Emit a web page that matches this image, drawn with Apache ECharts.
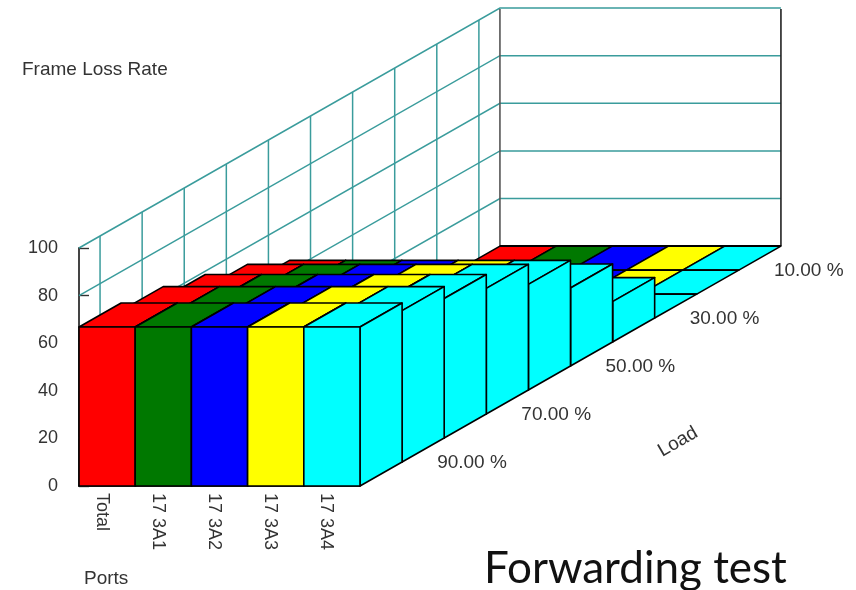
<!DOCTYPE html>
<html>
<head>
<meta charset="utf-8">
<style>html,body{margin:0;padding:0;background:#fff}#c{width:856px;height:590px}</style>
<script src="https://cdn.jsdelivr.net/npm/echarts@6/dist/echarts.min.js"></script>
</head>
<body>
<div id="c"></div>
<script>
const ports = ['Total', '17 3A1', '17 3A2', '17 3A3', '17 3A4'];
const portColors = ['#ff0000', '#007800', '#0000ff', '#ffff00', '#00ffff'];
// front slice to back slice
const loads = ['100.00 %', '90.00 %', '80.00 %', '70.00 %', '60.00 %', '50.00 %', '40.00 %', '30.00 %', '20.00 %', '10.00 %'];
const loadLabels = ['', '90.00 %', '', '70.00 %', '', '50.00 %', '', '30.00 %', '', '10.00 %'];
const totalLoss = [66.8, 63.6, 58.6, 52.8, 44.4, 32.8, 17, 0, 0, 0];
const port1Loss = [66.8, 63.6, 58.6, 52.8, 44.4, 32.8, 17, 0, 0, 0];
const port2Loss = [66.8, 63.6, 58.6, 52.8, 44.4, 32.8, 17, 0, 0, 0];
const port3Loss = [66.8, 63.6, 58.6, 52.8, 44.4, 32.8, 17, 0, 0, 0];
const port4Loss = [66.8, 63.6, 58.6, 52.8, 44.4, 32.8, 17, 0, 0, 0];
const lossByPort = [totalLoss, port1Loss, port2Loss, port3Loss, port4Loss];
const valueTicks = [0, 20, 40, 60, 80, 100];

// Oblique projection, in axis units per load slice
const DEPTH_X = 0.749;
const DEPTH_Y = 10.08;
const TEAL = '#3a9c9c';
const TEXT = '#333333';
const FONT = '"Liberation Sans"';

const project = (api, port, depth, value) =>
  api.coord([port + depth * DEPTH_X, value + depth * DEPTH_Y]);

const barRows = [];
for (let d = loads.length - 1; d >= 0; d--) {
  ports.forEach((_, p) => barRows.push([p, d, lossByPort[p][d]]));
}

function renderBar(params, api) {
  const p = api.value(0), d = api.value(1), v = api.value(2);
  const color = portColors[p];
  const style = { fill: color, stroke: '#000', lineWidth: 1.6, lineJoin: 'round' };
  const poly = pts => ({ type: 'polygon', shape: { points: pts.map(a => project(api, a[0], a[1], a[2])) }, style });
  const children = [poly([[p, d, v], [p + 1, d, v], [p + 1, d + 1, v], [p, d + 1, v]])];
  if (v > 0) {
    children.push(poly([[p + 1, d, 0], [p + 1, d + 1, 0], [p + 1, d + 1, v], [p + 1, d, v]]));
    children.push(poly([[p, d, 0], [p + 1, d, 0], [p + 1, d, v], [p, d, v]]));
  }
  return { type: 'group', children };
}

function renderLevel(params, api) {
  const v = api.value(0);
  const n = loads.length;
  return {
    type: 'polyline',
    shape: { points: [project(api, 0, 0, v), project(api, 0, n, v), project(api, ports.length, n, v)] },
    style: { stroke: v === 0 ? 'transparent' : TEAL, lineWidth: 1.5, fill: null }
  };
}

function renderSlice(params, api) {
  const d = api.value(0);
  const a = project(api, 0, d + 0.5, 0), b = project(api, 0, d + 0.5, 100);
  return {
    type: 'line',
    shape: { x1: a[0], y1: a[1], x2: b[0], y2: b[1] },
    style: { stroke: TEAL, lineWidth: 1.5 }
  };
}

function renderBackEdge(params, api) {
  const n = loads.length;
  const mk = (p, c) => {
    const a = project(api, p, n, 0), b = project(api, p, n, 99.6);
    return { type: 'line', shape: { x1: a[0], y1: a[1], x2: b[0], y2: b[1] }, style: { stroke: c, lineWidth: 1.6 } };
  };
  const f0 = project(api, 0, n, 0), f1 = project(api, ports.length, n, 0);
  return { type: 'group', children: [
    mk(0, '#555'), mk(ports.length, '#222'),
    { type: 'line', shape: { x1: f0[0], y1: f0[1], x2: f1[0], y2: f1[1] }, style: { stroke: '#000', lineWidth: 2 } }
  ] };
}

function renderLoadLabel(params, api) {
  const d = api.value(0);
  const pt = project(api, ports.length, d + 0.5, 0);
  return {
    type: 'text',
    x: pt[0] + 14, y: pt[1] + 13,
    style: { text: loadLabels[d], fill: TEXT, font: '19px ' + FONT, textAlign: 'left', textVerticalAlign: 'middle' }
  };
}

const chart = echarts.init(document.getElementById('c'));
const common = { type: 'custom', xAxisIndex: 1, yAxisIndex: 0, clip: false, silent: true };
chart.setOption({
  animation: false,
  backgroundColor: '#fff',
  grid: { left: 79, top: 248, width: 281, height: 238, containLabel: false },
  xAxis: [
    {
      type: 'category', data: ports, position: 'bottom',
      axisLine: { show: true, lineStyle: { color: '#000', width: 1.5 } },
      axisTick: { show: false },
      axisLabel: { rotate: -90, color: TEXT, fontFamily: FONT, fontSize: 18, margin: 7, interval: 0, verticalAlign: 'top', lineHeight: 11 }
    },
    { type: 'value', min: 0, max: ports.length, show: false }
  ],
  yAxis: {
    type: 'value', min: 0, max: 100, interval: 20,
    splitLine: { show: false },
    axisLine: { show: true, lineStyle: { color: '#444', width: 2 } },
    axisTick: { show: true, inside: true, length: 10, lineStyle: { color: '#333', width: 1.4 } },
    axisLabel: { color: TEXT, fontFamily: FONT, fontSize: 18, margin: 21 }
  },
  series: [
    Object.assign({}, common, { name: 'levels', z: 1, data: valueTicks.map(v => [v]), encode: { x: -1, y: 0 }, renderItem: renderLevel }),
    Object.assign({}, common, { name: 'slices', z: 1, data: loads.map((_, i) => [i]), encode: { x: 0 }, renderItem: renderSlice }),
    Object.assign({}, common, { name: 'backEdge', z: 2, data: [[0]], encode: { x: 0 }, renderItem: renderBackEdge }),
    Object.assign({}, common, { name: 'bars', z: 3, data: barRows, encode: { x: 0, y: 2 }, renderItem: renderBar }),
    Object.assign({}, common, { name: 'loadLabels', z: 4, data: loads.map((_, i) => [i]), encode: { x: 0 }, renderItem: renderLoadLabel })
  ],
  graphic: [
    { type: 'text', x: 22, y: 70, style: { text: 'Frame Loss Rate', fill: TEXT, font: '19px ' + FONT, textVerticalAlign: 'middle' } },
    { type: 'text', x: 84, y: 579, style: { text: 'Ports', fill: TEXT, font: '19px ' + FONT, textVerticalAlign: 'middle' } },
    { type: 'text', x: 678, y: 442, rotation: Math.PI * 30 / 180, style: { text: 'Load', fill: TEXT, font: '19px ' + FONT, textAlign: 'center', textVerticalAlign: 'middle' } },
    { type: 'text', x: 484, y: 569, style: { text: 'Forwarding test', fill: '#111', font: '44px Lato', textVerticalAlign: 'middle' } }
  ]
});
</script>
</body>
</html>
